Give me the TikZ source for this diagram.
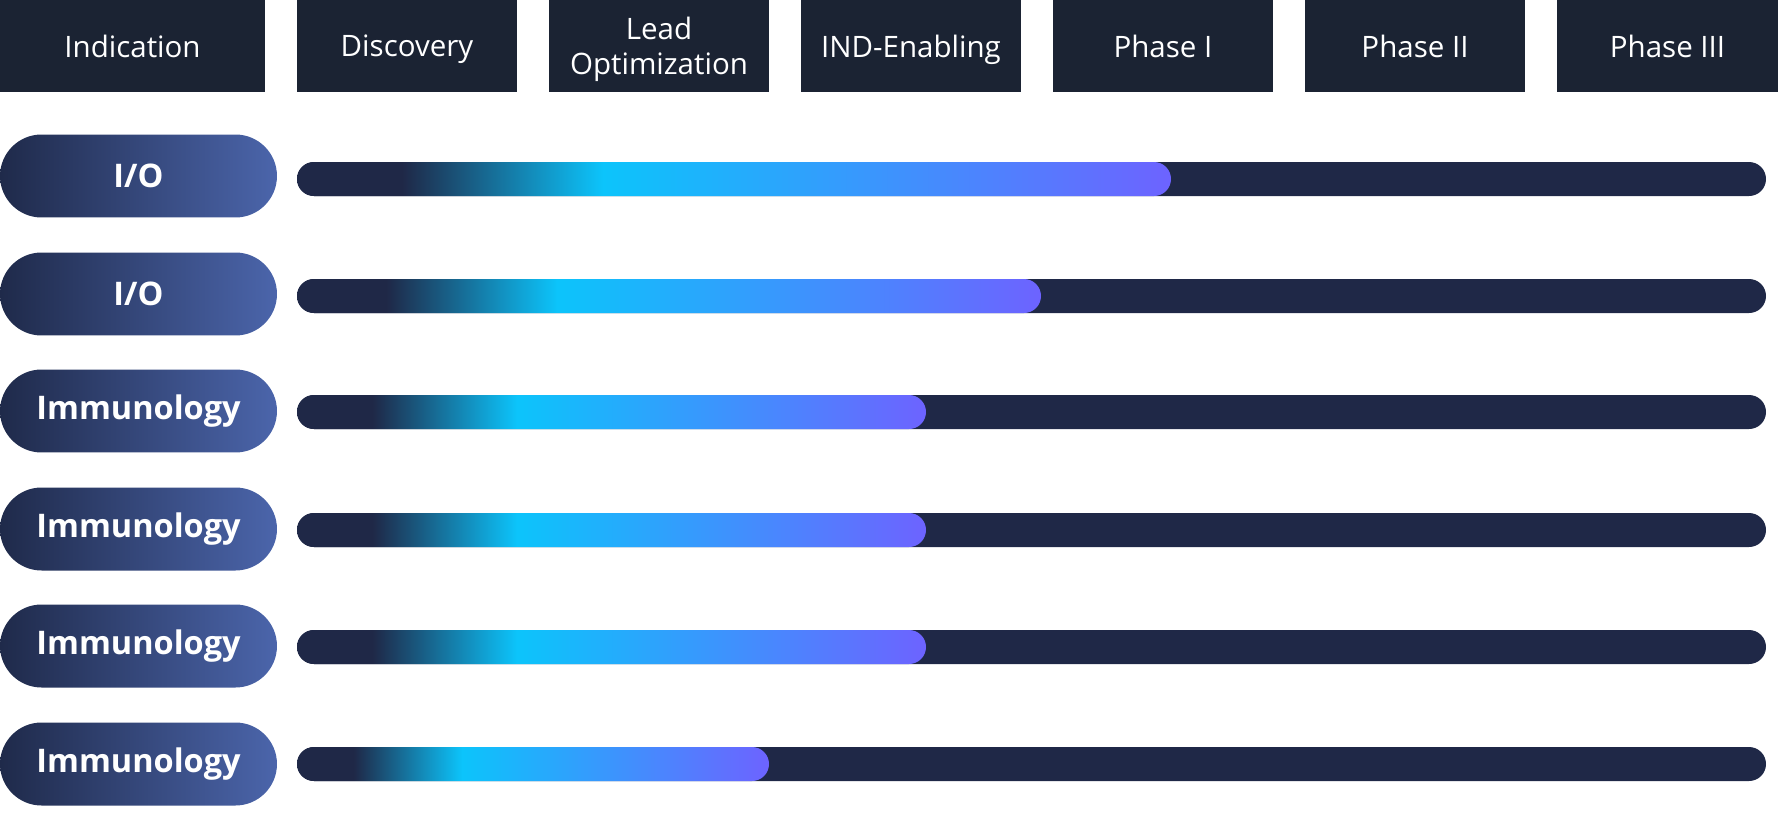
\documentclass[tikz,border=0pt]{standalone}
\usepackage{fontspec}
\setmainfont{Open Sans}
\usepackage{xcolor}
\usepackage{tikz}

\definecolor{headfill}{HTML}{1B2333}
\definecolor{bardark}{HTML}{1F2847}
\definecolor{barcyan}{HTML}{0CC4FB}
\definecolor{barpurple}{HTML}{6D63FF}
\definecolor{pillleft}{HTML}{1F2A4A}
\definecolor{pillright}{HTML}{4B65AB}

\pgfdeclarehorizontalshading{barfill}{100bp}{color(0bp)=(bardark); color(25bp)=(bardark); color(31bp)=(bardark); color(42.5bp)=(barcyan); color(75bp)=(barpurple); color(100bp)=(barpurple)}

\tikzset{
  headbox/.style={fill=headfill, text=white, minimum width=4.4cm, minimum height=1.84cm,
    inner sep=0pt, align=center, text depth=0pt, font=\fontsize{16.8}{20}\selectfont},
  pill/.style={left color=pillleft, right color=pillright, text=white, rounded corners=0.83cm,
    minimum width=5.54cm, minimum height=1.66cm, inner sep=0pt,
    font=\fontsize{18.5}{22}\selectfont\bfseries},
  track/.style={fill=bardark, rounded corners=0.34cm},
  progress/.style={shading=barfill, rounded corners=0.34cm}
}

\begin{document}
\begin{tikzpicture}[x=0.02cm, y=-0.02cm]
    \useasboundingbox (0,0) rectangle (1778,832);

    % Stage headers
    \node[headbox, minimum width=5.3cm] (hind) at (132.5,46) {Indication};
    \node[headbox] (hdisc) at (407,46) {Discovery};
    \node[headbox] (hlead) at (659,46) {Lead\\Optimization};
    \node[headbox] (hind2) at (911,46) {IND-Enabling};
    \node[headbox] (hph1) at (1163,46) {Phase I};
    \node[headbox] (hph2) at (1415,46) {Phase II};
    \node[headbox, minimum width=4.42cm] (hph3) at (1667.5,46) {Phase III};

    % Indication pills
    \node[pill] (io1) at (138.5,176) {I/O};
    \node[pill] (io2) at (138.5,294) {I/O};
    \node[pill] (imm1) at (138.5,411) {Immunology};
    \node[pill] (imm2) at (138.5,529) {Immunology};
    \node[pill] (imm3) at (138.5,646) {Immunology};
    \node[pill] (imm4) at (138.5,764) {Immunology};

    % Progress bars
    \foreach \yy/\xend in {179/1171, 296/1041, 412/926, 530/926, 647/926, 764/769} {
        \fill[track] (297,\yy-17) rectangle (1766,\yy+17);
        \shade[progress] (297,\yy-17) rectangle (\xend,\yy+17);
    }
\end{tikzpicture}
\end{document}
